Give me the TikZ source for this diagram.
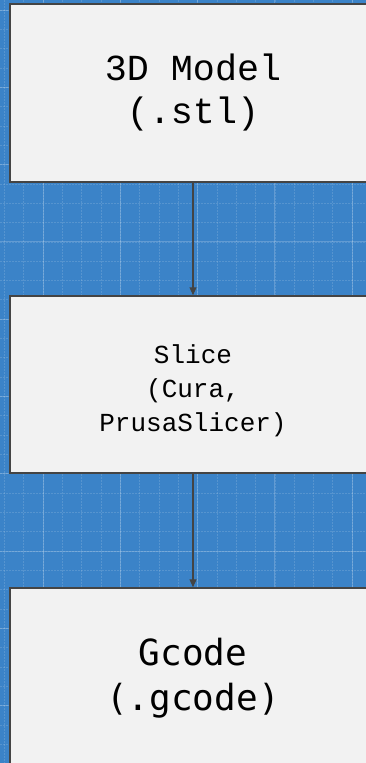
\documentclass[tikz,border=0pt]{standalone}
\usepackage{fontspec}
\usetikzlibrary{arrows.meta}
\newfontfamily\lmono{Liberation Mono}
\newfontfamily\dmono{DejaVu Sans Mono}
\definecolor{bgblue}{RGB}{59,131,200}
\definecolor{boxfill}{RGB}{242,242,242}
\definecolor{boxline}{RGB}{68,68,68}
\tikzset{
  stagebox/.style={draw=boxline, line width=1.5pt, fill=boxfill, rectangle,
    minimum width=366pt, align=center, inner sep=0pt},
  flowarrow/.style={draw=boxline, line width=1.2pt, -{Triangle[length=8pt,width=7pt]}},
  majorgrid/.style={white, opacity=0.2, line width=1pt},
  minorgrid/.style={white, opacity=0.14, line width=0.8pt, dash pattern=on 1.5pt off 1.5pt},
}
\begin{document}
\begin{tikzpicture}[x=1pt,y=-1pt]
\useasboundingbox (0,0) rectangle (366,763);
\begin{scope}
\clip (0,0) rectangle (366,763);
\fill[bgblue] (0,0) rectangle (366,763);
% minor grid
\foreach \i in {-12,...,20} {
  \draw[minorgrid] ({43+19.325*\i},0) -- ({43+19.325*\i},763);
}
\foreach \i in {-4,...,40} {
  \draw[minorgrid] (0,{10+19.325*\i}) -- (366,{10+19.325*\i});
}
% major grid
\foreach \i in {-1,...,4} {
  \draw[majorgrid] ({43+77.3*\i},0) -- ({43+77.3*\i},763);
}
\foreach \i in {0,...,9} {
  \draw[majorgrid] (0,{10+77.3*\i}) -- (366,{10+77.3*\i});
}
\node[stagebox, minimum height=178pt, font=\lmono\fontsize{36.7}{43}\selectfont]
  (model) at (193,93) {3D Model\\(.stl)};
\node[stagebox, minimum height=177pt, font=\lmono\fontsize{26}{33}\selectfont]
  (slice) at (193,384.5) {\raisebox{-12.5pt}[0pt][0pt]{\renewcommand\arraystretch{1.04}\begin{tabular}{@{}c@{}}Slice\\(Cura,\\PrusaSlicer)\end{tabular}}};
\node[stagebox, minimum height=180pt, font=\dmono\fontsize{36}{45}\selectfont]
  (gcode) at (193,678) {Gcode\\(.gcode)};
\draw[flowarrow] (model.south) -- (slice.north);
\draw[flowarrow] (slice.south) -- (gcode.north);
\end{scope}
\end{tikzpicture}
\end{document}
